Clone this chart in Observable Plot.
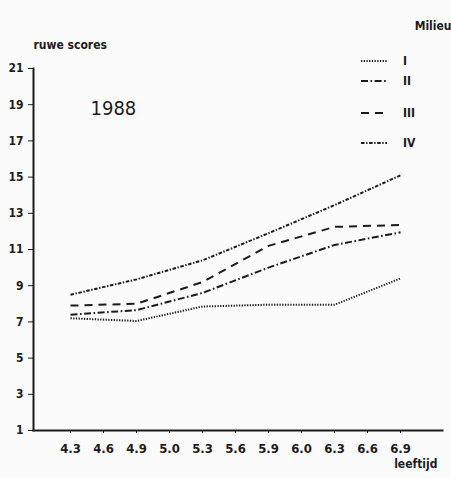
<!DOCTYPE html>
<html>
<head>
<meta charset="utf-8">
<script src="https://cdn.jsdelivr.net/npm/d3@7"></script>
<script src="https://cdn.jsdelivr.net/npm/@observablehq/plot@0.6"></script>
<style>
  html, body { margin: 0; padding: 0; background: #fbfbfb; }
  #wrap { position: relative; width: 451px; height: 478px; font-family: "DejaVu Sans Condensed", "DejaVu Sans", sans-serif; color: #1a1a1a; }
  #legend { position: absolute; left: 360px; top: 0; }
  .row { position: absolute; left: 0; height: 14px; display: flex; align-items: center; white-space: nowrap; }
  .row svg { display: block; }
  .row span { margin-left: 15px; font-size: 12px; font-weight: bold; }
</style>
</head>
<body>
<div id="wrap"></div>
<script>
const ages = ["4.3","4.6","4.9","5.0","5.3","5.6","5.9","6.0","6.3","6.6","6.9"];
const measuredAges = ["4.3","4.9","5.3","5.9","6.3","6.9"];
const milieuI   = [7.2, 7.05, 7.85, 7.95, 7.95, 9.4];
const milieuII  = [7.4, 7.65, 8.6, 10.0, 11.25, 11.95];
const milieuIII = [7.9, 8.0, 9.2, 11.2, 12.25, 12.35];
const milieuIV  = [8.5, 9.35, 10.4, 11.9, 13.45, 15.1];
const yTicks = [1,3,5,7,9,11,13,15,17,19,21];
const milieuNames = ["I","II","III","IV"];
const dashes = ["1.3,1.4", "7,2.5,1.6,2.5", "8,6", "3.5,1.6,1.4,1.6"];

const seriesValues = [milieuI, milieuII, milieuIII, milieuIV];
const rows = [];
seriesValues.forEach((vals, s) => vals.forEach((v, i) => rows.push({milieu: milieuNames[s], age: measuredAges[i], score: v})));

const ink = "#1c1c1c";
const font = "DejaVu Sans Condensed, DejaVu Sans, sans-serif";

const chart = Plot.plot({
  width: 451,
  height: 478,
  marginLeft: 33,
  marginRight: 9,
  marginTop: 68,
  marginBottom: 48,
  style: {background: "transparent", fontFamily: font, color: ink},
  x: {type: "point", domain: ages, range: [49.5, 421]},
  y: {domain: [1, 21]},
  marks: [
    Plot.axisY({ticks: yTicks, tickSize: 5, tickPadding: 5, fontSize: 12, fontWeight: "bold", label: null, stroke: ink}),
    Plot.axisX({tickSize: 3, tickPadding: 10, fontSize: 13, fontWeight: "bold", label: null, stroke: ink}),
    Plot.frame({anchor: "left", stroke: ink, strokeWidth: 2}),
    Plot.frame({anchor: "bottom", stroke: ink, strokeWidth: 2}),
    ...milieuNames.map((m, s) => Plot.line(rows.filter(d => d.milieu === m), {
      x: "age", y: "score", stroke: ink, strokeWidth: 2, strokeDasharray: dashes[s], strokeLinecap: "butt", strokeLinejoin: "miter"
    })),
    Plot.text(["ruwe scores"], {frameAnchor: "top-left", dx: 0, dy: -28, fontSize: 12, fontWeight: "bold", textAnchor: "start"}),
    Plot.text(["1988"], {frameAnchor: "top-left", dx: 57, dy: 32, fontSize: 20, textAnchor: "start", fontFamily: "DejaVu Sans Condensed"}),
    Plot.text(["Milieu"], {frameAnchor: "top-right", dx: 9, dy: -47, fontSize: 12, fontWeight: "bold", textAnchor: "end"}),
    Plot.text(["leeftijd"], {frameAnchor: "bottom-right", dx: -5, dy: 37, fontSize: 12, fontWeight: "bold", textAnchor: "end"})
  ]
});

const wrap = document.getElementById("wrap");
wrap.appendChild(chart);

const legend = document.createElement("div");
legend.id = "legend";
const rowTops = [54, 74, 106, 136];
milieuNames.forEach((m, s) => {
  const row = document.createElement("div");
  row.className = "row";
  row.style.top = rowTops[s] + "px";
  row.innerHTML = `<svg width="28" height="14"><line x1="1" y1="7" x2="27" y2="7" stroke="${ink}" stroke-width="2" stroke-dasharray="${dashes[s]}"/></svg><span>${m}</span>`;
  legend.appendChild(row);
});
wrap.appendChild(legend);
</script>
</body>
</html>
